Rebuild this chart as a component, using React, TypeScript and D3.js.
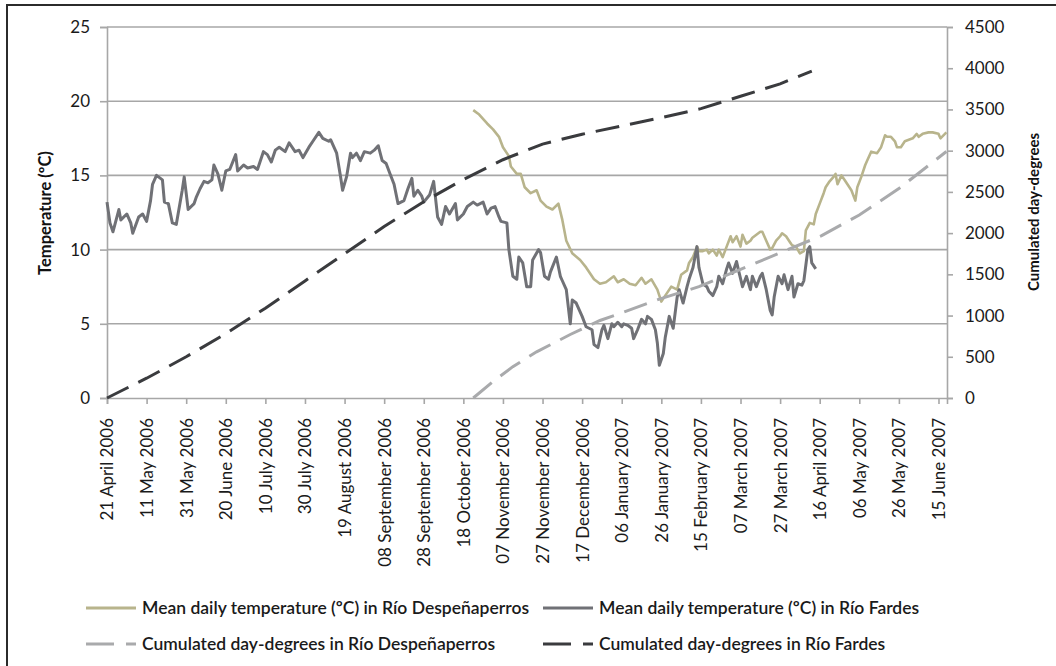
import * as d3 from "d3"
import React, { useEffect, useRef } from "react"

// plot box
const margin = { top: 27, right: 109, bottom: 268, left: 107 }
const outerWidth = 1056, outerHeight = 666
const width = outerWidth - margin.left - margin.right
const height = outerHeight - margin.top - margin.bottom

const startDate = new Date(2006, 3, 21)
const lastDay = 424.3

const xTickLabels = [
  "21 April 2006", "11 May 2006", "31 May 2006", "20 June 2006", "10 July 2006",
  "30 July 2006", "19 August 2006", "08 September 2006", "28 September 2006",
  "18 October 2006", "07 November 2006", "27 November 2006", "17 December 2006",
  "06 January 2007", "26 January 2007", "15 February 2007", "07 March 2007",
  "27 March 2007", "16 April 2007", "06 May 2007", "26 May 2007", "15 June 2007"
]
const leftTicks = [0, 5, 10, 15, 20, 25]
const rightTicks = [0, 500, 1000, 1500, 2000, 2500, 3000, 3500, 4000, 4500]

// [days since 21 April 2006, value]
const fardesTemp: [number, number][] = [
  [0, 13.2], [1.5, 11.8], [3, 11.2], [6, 12.7], [7, 12.0], [10, 12.4], [12, 11.8], [13, 11.1],
  [16, 12.2], [18, 12.4], [20, 11.9], [22, 13.3], [23, 14.4], [25, 15.0], [28, 14.7], [29, 13.2],
  [31, 13.1], [33, 11.8], [35, 11.7], [38, 14.0], [39, 14.9], [41, 12.7], [44, 13.1], [45, 13.5],
  [47, 14.1], [49, 14.6], [51, 14.5], [53, 14.7], [54, 15.7], [56, 15.1], [58, 14.0], [60, 15.3],
  [62, 15.4], [65, 16.4], [66, 15.3], [69, 15.7], [71, 15.5], [74, 15.6], [76, 15.4], [79, 16.6],
  [81, 16.4], [83, 15.9], [85, 16.7], [87, 16.9], [90, 16.6], [92, 17.2], [95, 16.6], [97, 16.7],
  [99, 16.2], [102, 16.9], [104, 17.3], [107, 17.9], [109, 17.5], [112, 17.3], [113, 17.4],
  [116, 16.5], [118, 14.9], [119, 14.0], [121, 14.9], [123, 16.5], [124, 16.2], [126, 16.5],
  [128, 16.0], [130, 16.6], [133, 16.5], [135, 16.7], [137, 17.0], [139, 16.0], [141, 15.8],
  [143, 15.1], [145, 14.4], [147, 13.1], [150, 13.3], [152, 14.1], [154, 14.8], [155, 13.6],
  [157, 14.0], [159, 13.6], [160, 13.2], [163, 13.7], [165, 14.6], [167, 12.2], [169, 11.7],
  [171, 12.9], [173, 12.4], [176, 13.1], [177, 12.0], [180, 12.4], [182, 12.9], [185, 13.2],
  [187, 13.0], [190, 13.2], [192, 12.4], [194, 12.8], [196, 12.9], [198, 12.2], [199, 11.9],
  [202, 11.8], [203, 10.0], [205, 8.2], [207, 8.0], [208, 9.5], [210, 9.1], [212, 7.5], [214, 7.5],
  [215, 9.3], [218, 10.0], [219, 9.8], [221, 8.2], [223, 8.0], [224, 8.5], [227, 9.5], [229, 8.2],
  [230, 7.9], [232, 7.3], [234, 5.0], [235, 6.6], [237, 6.4], [240, 5.5], [242, 4.8], [245, 4.6],
  [246, 3.6], [248, 3.4], [250, 4.6], [251, 4.9], [253, 4.0], [255, 5.0], [256, 4.8], [258, 5.1],
  [260, 4.8], [261, 5.0], [263, 4.9], [265, 4.7], [266, 4.0], [268, 4.6], [270, 5.3], [272, 5.0],
  [273, 5.5], [275, 5.3], [277, 4.6], [278, 3.7], [279, 2.2], [281, 3.0], [282, 4.1], [284, 5.5],
  [286, 4.7], [288, 6.8], [289, 7.3], [291, 6.4], [293, 7.5], [294, 8.0], [296, 8.8], [298, 10.2],
  [299, 8.8], [301, 7.7], [303, 7.5], [304, 7.2], [306, 6.9], [308, 7.5], [309, 8.2], [311, 7.7],
  [313, 8.7], [314, 9.1], [316, 8.4], [318, 9.2], [319, 8.6], [321, 7.5], [323, 8.2], [325, 7.3],
  [326, 8.2], [328, 7.5], [330, 8.2], [331, 8.4], [333, 7.3], [335, 5.9], [336, 5.6], [337, 6.8],
  [339, 8.2], [341, 7.7], [342, 8.3], [344, 7.3], [346, 8.2], [347, 6.8], [349, 7.7], [351, 7.6],
  [352, 7.9], [354, 10.0], [355, 10.2], [356, 9.1], [358, 8.7]
]

const despTemp: [number, number][] = [
  [185, 19.4], [188, 19.1], [192, 18.5], [195, 18.1], [198, 17.6], [200, 16.9], [203, 16.3],
  [204, 15.6], [207, 15.1], [209, 15.1], [211, 14.2], [214, 13.8], [217, 14.0], [219, 13.3],
  [222, 12.9], [225, 12.7], [228, 13.1], [230, 12.0], [232, 10.6], [235, 9.75], [239, 9.3],
  [242, 8.8], [246, 8.0], [249, 7.7], [252, 7.8], [256, 8.2], [258, 7.8], [261, 8.0], [264, 7.7],
  [267, 7.6], [270, 8.1], [272, 7.7], [275, 8.0], [278, 7.3], [280, 6.5], [283, 7.1], [285, 7.5],
  [288, 7.3], [290, 8.3], [293, 8.6], [294, 9.1], [296, 9.5], [298, 10.2], [299, 9.9], [301, 9.9],
  [303, 10.0], [304, 9.75], [306, 10.0], [308, 9.6], [309, 10.0], [311, 9.5], [313, 10.2],
  [315, 10.9], [316, 10.5], [318, 10.9], [320, 10.2], [321, 11.0], [323, 10.4], [325, 10.6],
  [326, 10.8], [328, 11.0], [330, 11.2], [331, 11.2], [333, 10.6], [335, 10.0], [336, 10.1],
  [338, 10.6], [340, 10.9], [341, 11.1], [343, 10.9], [345, 10.5], [346, 10.3], [348, 10.2],
  [350, 9.75], [352, 9.9], [353, 11.3], [355, 11.8], [357, 11.7], [358, 12.4], [360, 13.1],
  [362, 13.8], [363, 14.2], [365, 14.6], [367, 14.9], [368, 15.1], [369, 14.4], [371, 15.0],
  [373, 14.6], [374, 14.4], [376, 14.0], [378, 13.3], [379, 14.2], [381, 14.9], [383, 15.7],
  [384, 16.0], [386, 16.6], [389, 16.5], [391, 16.9], [393, 17.7], [394, 17.6], [396, 17.6],
  [398, 17.3], [399, 16.9], [401, 16.9], [403, 17.3], [405, 17.4], [407, 17.5], [409, 17.8],
  [410, 17.6], [412, 17.8], [415, 17.9], [417, 17.9], [420, 17.8], [421, 17.5], [424, 17.9]
]

const despCum: [number, number][] = [
  [185, 0], [195, 200], [205, 380], [217, 560], [234, 770], [249, 940], [262, 1050], [279, 1200],
  [299, 1350], [320, 1560], [340, 1760], [361, 1970], [380, 2220], [400, 2540], [424, 2990]
]

const fardesCum: [number, number][] = [
  [0, 0], [20, 240], [40, 500], [60, 780], [80, 1090], [100, 1420], [120, 1750], [140, 2080],
  [160, 2380], [180, 2650], [200, 2890], [220, 3080], [240, 3200], [260, 3300], [280, 3400],
  [300, 3510], [320, 3660], [340, 3810], [356, 3966]
]

const legendItems = [
  { label: "Mean daily temperature (ºC) in Río Despeñaperros", color: "#b8b48c", dash: null, col: 0, row: 0 },
  { label: "Mean daily temperature (ºC) in Río Fardes", color: "#707176", dash: null, col: 1, row: 0 },
  { label: "Cumulated day-degrees in Río Despeñaperros", color: "#a9aaac", dash: "28 12", col: 0, row: 1 },
  { label: "Cumulated day-degrees in Río Fardes", color: "#3a3b3e", dash: "28 12", col: 1, row: 1 }
]

const font = "Lato, 'Open Sans', sans-serif"
const gridColor = "#a7a7a7"

export default function App() {
  const ref = useRef<SVGSVGElement>(null)

  useEffect(() => {
    const root = d3.select(ref.current)
    root.selectAll("*").remove()

    // frame (image is cropped at right and bottom)
    root.append("rect")
      .attr("x", 7).attr("y", 5)
      .attr("width", 1200).attr("height", 800)
      .attr("fill", "none").attr("stroke", "#2b2b2b").attr("stroke-width", 2)

    const svg = root.append("g")
      .attr("transform", "translate(" + margin.left + "," + margin.top + ")")

    const parse = d3.timeParse("%d %B %Y")
    const tickDays = xTickLabels.map(l => d3.timeDay.count(startDate, parse(l) as Date))

    const x = d3.scaleLinear().domain([0, lastDay]).range([0, width])
    const yT = d3.scaleLinear().domain([0, 25]).range([height, 0])
    const yC = d3.scaleLinear().domain([0, 4500]).range([height, 0])

    //gridlines
    svg.append("g")
      .selectAll("line")
      .data(leftTicks.filter(t => t > 0))
      .enter()
      .append("line")
      .attr("x1", 0).attr("x2", width)
      .attr("y1", d => yT(d)).attr("y2", d => yT(d))
      .attr("stroke", gridColor).attr("stroke-width", 1.6)

    const styleAxis = (g: any) => {
      g.selectAll("path, line").attr("stroke", gridColor).attr("stroke-width", 1.6)
      g.selectAll("text").attr("fill", "#1a1a1a").style("font-family", font)
    }

    const xAxis = svg.append("g")
      .attr("transform", "translate(0," + height + ")")
      .call(d3.axisBottom(x).tickValues(tickDays).tickFormat((d, i) => xTickLabels[i]).tickSize(6).tickSizeOuter(6))
    styleAxis(xAxis)
    xAxis.selectAll("text")
      .attr("transform", "rotate(-90)")
      .attr("text-anchor", "end")
      .attr("x", -20).attr("y", 0).attr("dy", "0.35em")
      .style("font-size", "17px")

    const yAxisL = svg.append("g")
      .call(d3.axisLeft(yT).tickValues(leftTicks).tickSize(7).tickPadding(10))
    styleAxis(yAxisL)
    yAxisL.selectAll("text").style("font-size", "17px")

    const yAxisR = svg.append("g")
      .attr("transform", "translate(" + width + ",0)")
      .call(d3.axisRight(yC).tickValues(rightTicks).tickFormat(d3.format("d")).tickSize(6).tickPadding(12))
    styleAxis(yAxisR)
    yAxisR.selectAll("text").style("font-size", "17px")

    // axis titles
    svg.append("text")
      .attr("transform", "translate(" + (45 - margin.left) + "," + (213 - margin.top) + ") rotate(-90)")
      .attr("text-anchor", "middle").attr("dy", "0.35em")
      .style("font-family", font).style("font-size", "16.5px").style("font-weight", "bold")
      .attr("fill", "#111")
      .text("Temperature (ºC)")
    svg.append("text")
      .attr("transform", "translate(" + (1034 - margin.left) + "," + (212 - margin.top) + ") rotate(-90)")
      .attr("text-anchor", "middle").attr("dy", "0.35em")
      .style("font-family", font).style("font-size", "15px").style("font-weight", "bold")
      .attr("fill", "#111")
      .text("Cumulated day-degrees")

    const lineT = d3.line<[number, number]>().x(d => x(d[0])).y(d => yT(d[1]))
    const lineC = d3.line<[number, number]>().x(d => x(d[0])).y(d => yC(d[1]))

    svg.append("path").datum(despTemp).attr("d", lineT)
      .attr("fill", "none").attr("stroke", "#b8b48c").attr("stroke-width", 2.6).attr("stroke-linejoin", "round")
    svg.append("path").datum(fardesTemp).attr("d", lineT)
      .attr("fill", "none").attr("stroke", "#707176").attr("stroke-width", 3).attr("stroke-linejoin", "round")
    svg.append("path").datum(despCum).attr("d", lineC)
      .attr("fill", "none").attr("stroke", "#a9aaac").attr("stroke-width", 3).attr("stroke-dasharray", "24 11")
    svg.append("path").datum(fardesCum).attr("d", lineC)
      .attr("fill", "none").attr("stroke", "#3a3b3e").attr("stroke-width", 3).attr("stroke-dasharray", "24 11")

    // legend
    const legend = root.append("g")
    const colX = [86, 543]
    const rowY = [608, 644]
    legendItems.forEach(item => {
      const lx = colX[item.col], ly = rowY[item.row]
      legend.append("line")
        .attr("x1", lx).attr("x2", lx + 50).attr("y1", ly).attr("y2", ly)
        .attr("stroke", item.color).attr("stroke-width", 3)
        .attr("stroke-dasharray", item.dash)
      legend.append("text")
        .attr("x", lx + 56).attr("y", ly).attr("dy", "0.35em")
        .style("font-family", font).style("font-size", "17.5px").style("font-weight", "600")
        .attr("fill", "#1a1a1a")
        .text(item.label)
    })
  }, [])

  return (
    <svg
      ref={ref}
      width={outerWidth}
      height={outerHeight}
      style={{ position: "absolute", left: 0, top: 0, background: "#fff" }}
    />
  )
}
